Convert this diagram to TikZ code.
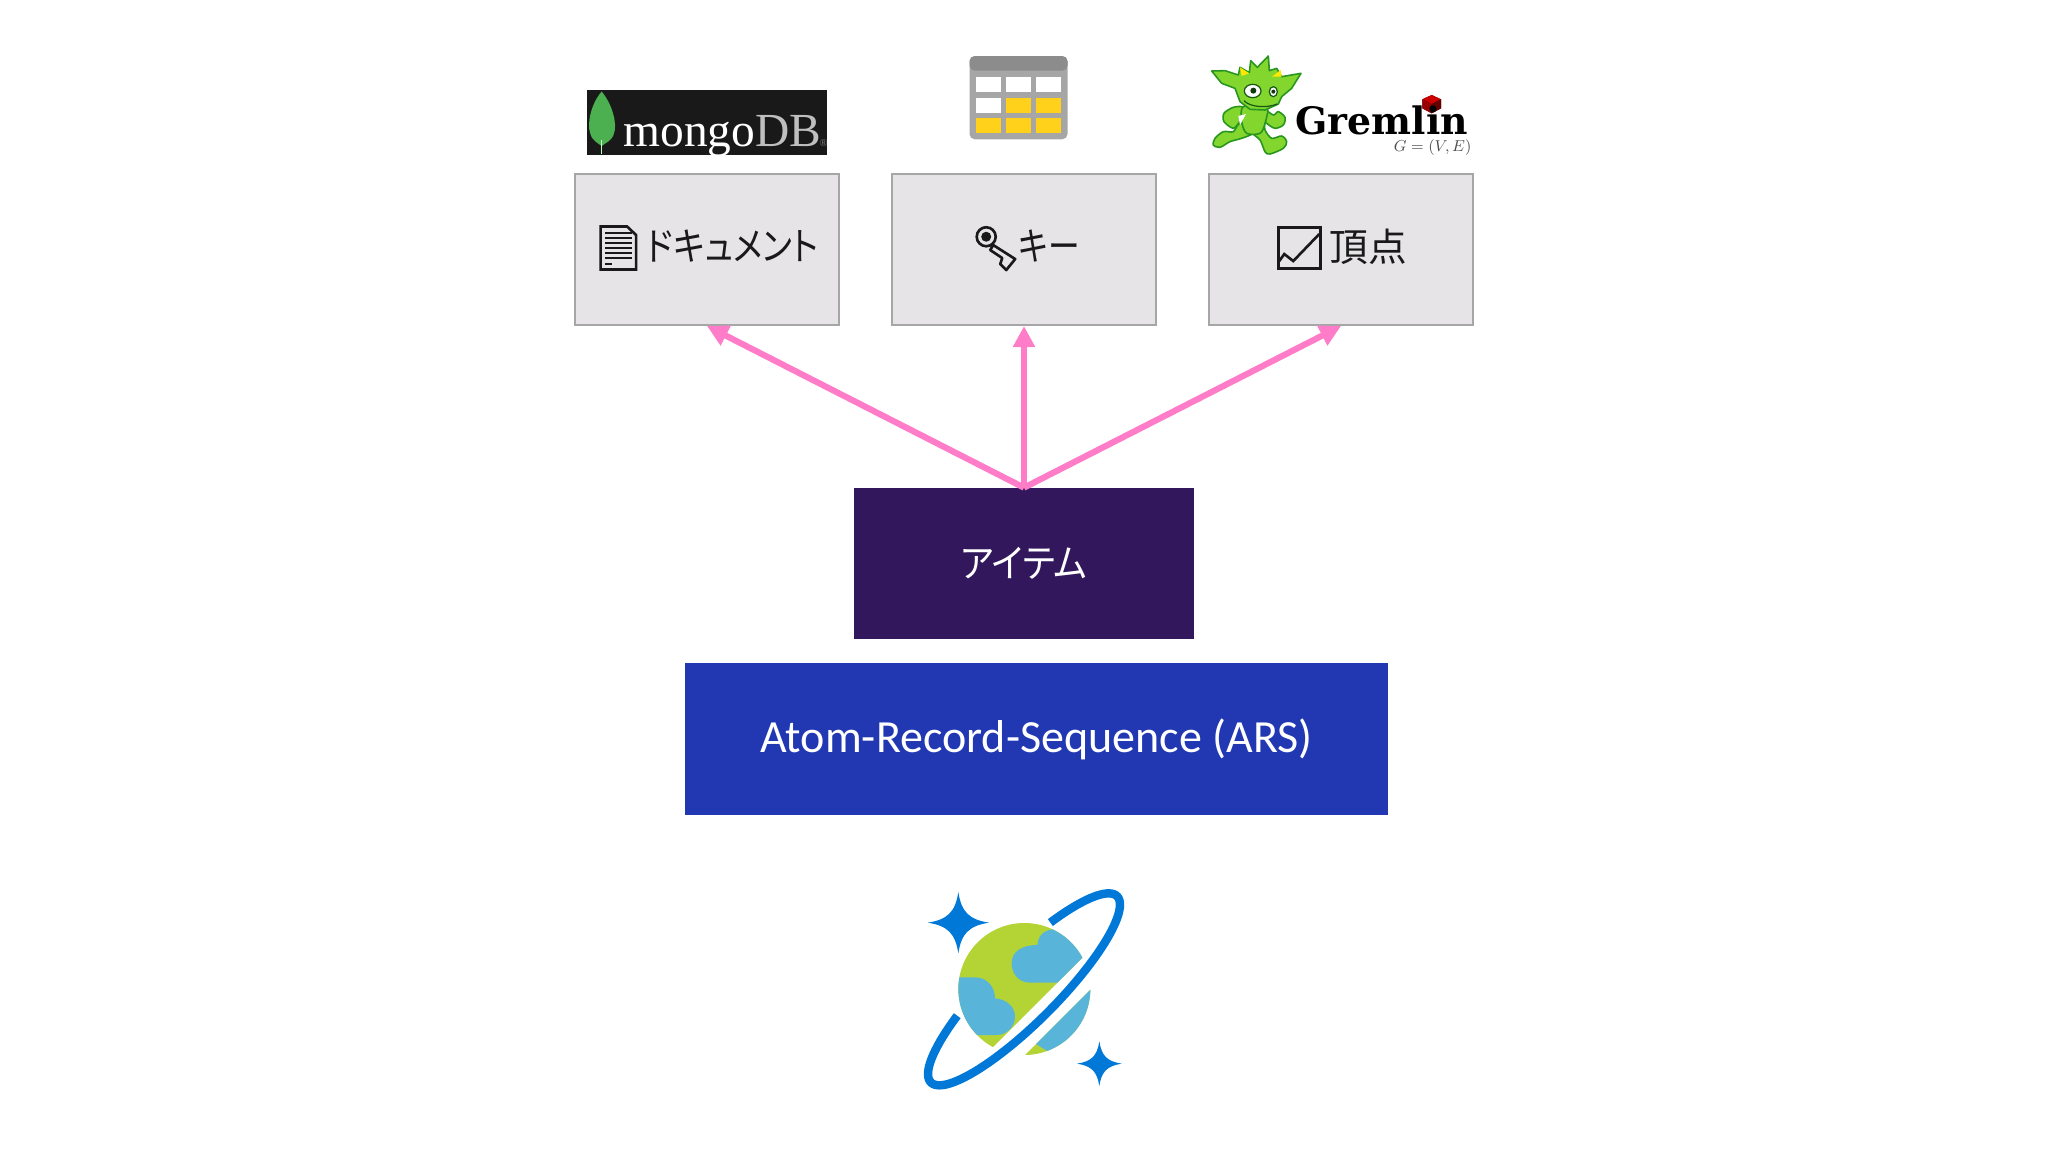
\documentclass[tikz,border=0pt]{standalone}
\usepackage{fontspec}
\usepackage{xcolor}
\usetikzlibrary{arrows.meta,positioning}
\setmainfont{Carlito}
\newfontfamily\cjkfont[RawFeature=+palt]{Noto Sans CJK JP}
\newfontfamily\monfont{Liberation Serif}
\newfontfamily\gremfont{DejaVu Serif}[BoldFont=DejaVu Serif Bold]
\definecolor{boxgray}{RGB}{230,228,230}
\definecolor{boxline}{RGB}{166,166,166}
\definecolor{itempurple}{RGB}{51,23,92}
\definecolor{arsblue}{RGB}{33,56,178}
\definecolor{arrowpink}{RGB}{255,124,200}
\definecolor{planetblue}{RGB}{0,120,215}
\definecolor{planetgreen}{RGB}{180,211,53}
\definecolor{cloudblue}{RGB}{89,180,217}
\definecolor{gobgreen}{RGB}{130,214,46}
\definecolor{gobline}{RGB}{40,150,30}
\definecolor{cellyellow}{RGB}{255,209,26}
\definecolor{leafgreen}{RGB}{76,175,80}
\tikzset{
  % 灰色の箱
  typebox/.style={draw=boxline, line width=1.2pt, fill=boxgray, minimum width=5.28cm, minimum height=3.02cm},
  typelab/.style={inner sep=0pt, font=\fontsize{22}{26}\selectfont\cjkfont, text=black!90},
  darkbox/.style={minimum height=3.02cm, text=white, inner sep=0pt},
  arrow/.style={-{Triangle[length=12pt,width=12pt]}, line width=3.5pt, arrowpink},
  % ピクセル座標 / ズーム座標
  px/.style={x=0.02cm, y=-0.02cm},
  zoomed/.style={x=1cm/150, y=-1cm/150},
  iconline/.style={line width=1.5pt, black!90}
}
\newcommand{\sparkle}[3]{
  \fill[planetblue] (#1,#2-#3) .. controls (#1+.1*#3,#2-.35*#3) and (#1+.35*#3,#2-.1*#3) .. (#1+#3,#2)
    .. controls (#1+.35*#3,#2+.1*#3) and (#1+.1*#3,#2+.35*#3) .. (#1,#2+#3)
    .. controls (#1-.1*#3,#2+.35*#3) and (#1-.35*#3,#2+.1*#3) .. (#1-#3,#2)
    .. controls (#1-.35*#3,#2-.1*#3) and (#1-.1*#3,#2-.35*#3) .. (#1,#2-#3) -- cycle;
}
\begin{document}
\begin{tikzpicture}
  \useasboundingbox (0,0) rectangle (40.96,-23.04);

  % 箱
  \node[typebox] (doc) at (14.14, -4.99) {};
  \node[typebox] (key) at (20.48, -4.99) {};
  \node[typebox] (vertex) at (26.82, -4.99) {};
  \node[darkbox, fill=itempurple, minimum width=6.8cm, font=\fontsize{22}{26}\selectfont\cjkfont] (item) at (20.48, -11.27) {\scalebox{.92}[1]{アイテム}};
  \node[darkbox, fill=arsblue, minimum width=14.07cm, minimum height=3.04cm, font=\fontsize{26.2}{30}\selectfont] (ars) at (20.73, -14.78) {Atom-Record-Sequence (ARS)};

  \node[typelab] (doclab) at (14.65, -4.93) {\scalebox{.87}[1]{ドキュメント}};
  \node[typelab] (keylab) at (20.99, -4.93) {\scalebox{.82}[1]{キー}};
  \node[typelab] (vertexlab) at (27.36, -4.93) {頂点};

  % 矢印
  \draw[arrow] (item.north) -- (doc.south);
  \draw[arrow] (item.north) -- (key.south);
  \draw[arrow] (item.north) -- (vertex.south);

  % mongoDB
  \begin{scope}[px]
    \fill[black!90] (587.3,90.3) rectangle (826.7,155.3);
    \fill[leafgreen] (601.5,91.5) .. controls (590,105) and (587,125) .. (590,133)
      .. controls (592,141) and (598,143) .. (601.5,146) .. controls (605,143) and (612,141) .. (614,133)
      .. controls (617,125) and (613,105) .. (601.5,91.5) -- cycle;
    \draw[white!75!green, line width=0.8pt] (601.5,140) -- (601.5,154);
    \node[anchor=base west, inner sep=0pt, text=white, font=\fontsize{27}{30}\selectfont\monfont] (mongo) at (623,146) {mongo\textcolor{black!25}{DB}};
    \node[anchor=base west, inner sep=0pt, text=black!50, font=\fontsize{6}{7}\selectfont\monfont] (regmark) at (819,146) {®};
  \end{scope}

  % テーブル
  \begin{scope}[px]
    \fill[black!35, rounded corners=3pt] (969.3,56) rectangle (1067.3,139.3);
    \fill[black!45, rounded corners=3pt] (969.3,56) rectangle (1067.3,70.7);
    \foreach \cx/\cy/\ccol in {976/77.3/white, 1006/77.3/white, 1035.7/77.3/white,
        976/98.3/white, 1006/98.3/cellyellow, 1035.7/98.3/cellyellow,
        976/118.3/cellyellow, 1006/118.3/cellyellow, 1035.7/118.3/cellyellow}
      \fill[\ccol] (\cx,\cy) rectangle ++(25,15);
  \end{scope}

  % Gremlin
  \begin{scope}[shift={(20.4,-0.6)}, zoomed]
    \begin{scope}[draw=gobline, fill=gobgreen, line width=0.9pt]
      \filldraw plot[smooth cycle] coordinates {(660,280)(640,305)(610,305)(585,325)(580,345)(600,352)(630,335)(665,325)(700,310)(715,285)};
      \filldraw plot[smooth cycle] coordinates {(690,300)(720,330)(735,365)(750,372)(790,355)(800,335)(785,318)(755,325)(735,300)(730,270)};
      \filldraw plot[smooth cycle] coordinates {(670,232)(640,232)(612,250)(612,275)(640,295)(660,275)(680,265)};
      \filldraw plot[smooth cycle] coordinates {(735,240)(760,255)(775,245)(795,262)(790,285)(765,295)(740,280)(730,265)};
      \filldraw plot[smooth cycle] coordinates {(670,230)(740,230)(735,280)(720,310)(680,310)(665,275)};
      \fill[white] (655,258) -- (678,252) -- (660,285) -- cycle;
      \filldraw[line join=round] (575,123) -- (615,122) -- (655,135) -- (660,112) -- (688,128) -- (692,92) -- (712,112)
        -- (745,78) -- (748,122) -- (770,115) -- (785,140) -- (843,130) -- (815,175) -- (785,200) -- (775,222)
        -- (735,240) -- (690,238) -- (660,215) -- (645,175) -- (605,160) -- cycle;
    \end{scope}
    \fill[yellow!90!orange] (660,112) -- (688,130) -- (665,138) -- cycle;
    \fill[yellow!90!orange] (756,140) -- (782,120) -- (785,140) -- cycle;
    \filldraw[fill=white, draw=gobline!60!black, line width=0.7pt] (698,183) ellipse (25 and 20);
    \filldraw[fill=white, draw=gobline!60!black, line width=0.7pt] (760,185) ellipse (12 and 15);
    \fill[gobline!40!black] (700,182) circle (9);
    \fill[gobline!40!black] (760,185) circle (6);
    \draw[gobline!60!black, line width=0.7pt] (672,212) .. controls (690,232) and (740,235) .. (772,222);
    \fill[black!85!red] (1235,195) -- (1263,208) -- (1263,235) -- (1235,250) -- (1207,235) -- (1207,208) -- cycle;
    \fill[red!80!black] (1235,195) -- (1263,208) -- (1235,222) -- (1207,208) -- cycle;
    \fill[red!60!black] (1207,208) -- (1235,222) -- (1235,250) -- (1207,235) -- cycle;
    \fill[red!40!black] (1263,208) -- (1235,222) -- (1235,250) -- (1263,235) -- cycle;
    \node[anchor=base west, inner sep=0pt, font=\fontsize{21.5}{25}\selectfont\gremfont\bfseries] (gremlin) at (826,315) {Gremlin};
    \node[anchor=center, inner sep=0pt, text=black!70, font=\fontsize{9}{10}\selectfont] (gve) at (1238,352) {$G=(V,E)$};
  \end{scope}

  % 記号
  \begin{scope}[px, iconline]
    % 文書
    \draw[fill=boxgray, line join=miter] (600.5,226.5) -- (627,226.5) -- (636,235) -- (636,269.5) -- (600.5,269.5) -- cycle;
    \foreach \ly in {233,238,243,248,253,258}
      \draw[line width=0.7pt] (605,\ly) -- (632,\ly);
    \draw[line width=0.7pt] (605,264) -- (612,264);
    % 鍵
    \draw (986,236.7) circle (9.5);
    \fill (986,236.7) circle (5);
    \draw[line join=round, fill=boxgray] (993,245) -- (1015,259) -- (1006,270) -- (1000,264) -- (1002,258) -- (990,250) -- cycle;
    % グラフ
    \draw (1278.5,227.5) rectangle (1320,268.5);
    \draw (1279,261) -- (1284,254) -- (1293,261) -- (1319,234);
  \end{scope}

  % 惑星
  \begin{scope}[shift={(18,-17.4)}, zoomed]
    \begin{scope}
      \clip (373,357) circle (198);
      \begin{scope}
        \clip (100,100) -- (710,100) -- (100,710) -- cycle;
        \fill[planetgreen] (100,100) rectangle (710,710);
        \fill[cloudblue] (600,338) -- (390,338) .. controls (355,338) and (335,310) .. (335,280)
          .. controls (335,245) and (365,225) .. (412,225) .. controls (415,190) and (440,178) .. (465,178) -- (600,178) -- cycle;
        \fill[cloudblue] (150,322) -- (225,322) .. controls (260,322) and (285,350) .. (285,385)
          .. controls (320,388) and (345,410) .. (345,440) .. controls (345,470) and (320,495) .. (290,495) -- (150,495) -- cycle;
      \end{scope}
      \begin{scope}
        \clip (640,290) -- (640,640) -- (290,640) -- cycle;
        \fill[planetgreen] (290,290) rectangle (640,640);
        \fill[cloudblue] (640,340) -- (640,480) -- (445,545) .. controls (430,535) and (420,530) .. (405,520) -- (560,340) -- cycle;
      \end{scope}
    \end{scope}
    \draw[planetblue, line width=4.8pt] plot[domain=-60:240, samples=90] ({372+395*cos(\x)*0.7071+99*sin(\x)*0.7071},{358-395*cos(\x)*0.7071+99*sin(\x)*0.7071});
    \sparkle{175}{158}{92}
    \sparkle{598}{581}{67}
  \end{scope}
\end{tikzpicture}
\end{document}
